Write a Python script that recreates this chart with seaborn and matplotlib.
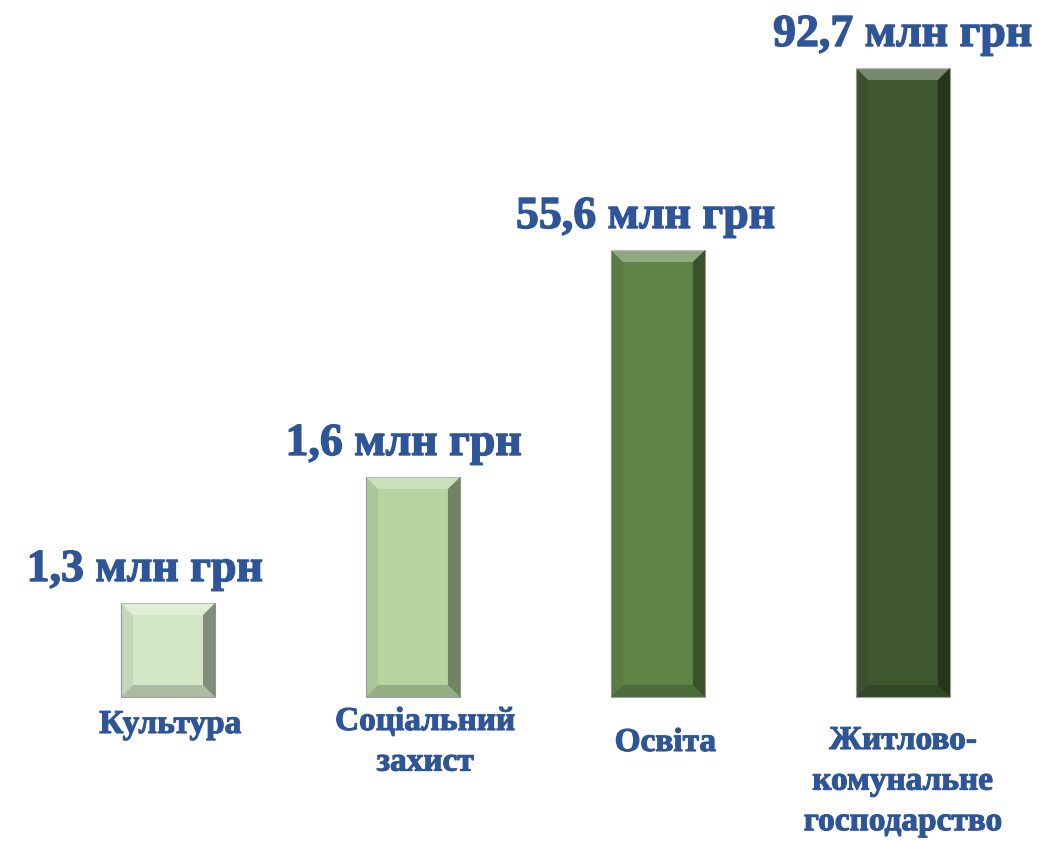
import matplotlib
matplotlib.use("Agg")
import matplotlib.pyplot as plt
import matplotlib.patheffects as pe
import seaborn as sns
import pandas as pd
from matplotlib.patches import Polygon

# Дані з картинки
categories = ["Культура", "Соціальний\nзахист", "Освіта", "Житлово-\nкомунальне\nгосподарство"]
values = [1.3, 1.6, 55.6, 92.7]          # млн грн (підписи)
bar_heights = [94, 220, 447, 629]        # висота стовпчиків, як на рисунку
bar_colors = ["#d2ebc1", "#b4dc98", "#5e8e3e", "#3e5e28"]

df = pd.DataFrame({"cat": categories, "h": bar_heights})

sns.set_theme(style="white")
plt.rcParams["font.family"] = ["Liberation Serif", "DejaVu Serif"]

text_color = "#2e5597"
# Трохи підсилюємо жирність обведенням тим самим кольором
bold_fx = [pe.withStroke(linewidth=1.0, foreground=text_color)]

fig = plt.figure(figsize=(10.46, 8.42), dpi=100)
ax = fig.add_axes([0, 0, 1, 1])

sns.barplot(data=df, x="cat", y="h", hue="cat", palette=bar_colors,
            width=0.385, legend=False, ax=ax, edgecolor="#a0a0a0", linewidth=0.8)

ax.set_xlim(-0.686, 3.584)
ax.set_ylim(-145, 697)
ax.axis("off")

# Ефект фаски на стовпчиках
bx = 0.05   # по x
by = 12     # по y
for p in ax.patches:
    x0, y0 = p.get_x(), p.get_y()
    x1, y1 = x0 + p.get_width(), y0 + p.get_height()
    top = Polygon([(x0, y1), (x1, y1), (x1 - bx, y1 - by), (x0 + bx, y1 - by)],
                  closed=True, facecolor="white", alpha=0.3, lw=0)
    right = Polygon([(x1, y1), (x1, y0), (x1 - bx, y0 + by), (x1 - bx, y1 - by)],
                    closed=True, facecolor="black", alpha=0.38, lw=0)
    bottom = Polygon([(x0, y0), (x1, y0), (x1 - bx, y0 + by), (x0 + bx, y0 + by)],
                     closed=True, facecolor="black", alpha=0.18, lw=0)
    left = Polygon([(x0, y0), (x0, y1), (x0 + bx, y1 - by), (x0 + bx, y0 + by)],
                   closed=True, facecolor="black", alpha=0.06, lw=0)
    for poly in (top, right, bottom, left):
        ax.add_patch(poly)

# Підписи значень
val_dx = [-0.094, -0.037, -0.049, 0.0]
for i, (v, h) in enumerate(zip(values, bar_heights)):
    label = f"{v:.1f}".replace(".", ",") + " млн грн"
    ax.text(i + val_dx[i], h + 12, label, ha="center", va="bottom",
            fontsize=33, fontweight="bold", color=text_color, path_effects=bold_fx)

# Підписи категорій
cat_tops = [-12, -9, -30, -28]
cat_dx = [0.01, 0.05, 0.03, 0.0]
for i, (c, t) in enumerate(zip(categories, cat_tops)):
    ax.text(i + cat_dx[i], t, c, ha="center", va="top", fontsize=24,
            fontweight="bold", color=text_color, linespacing=1.4,
            path_effects=[pe.withStroke(linewidth=0.8, foreground=text_color)])

plt.savefig("out.png", dpi=100)
